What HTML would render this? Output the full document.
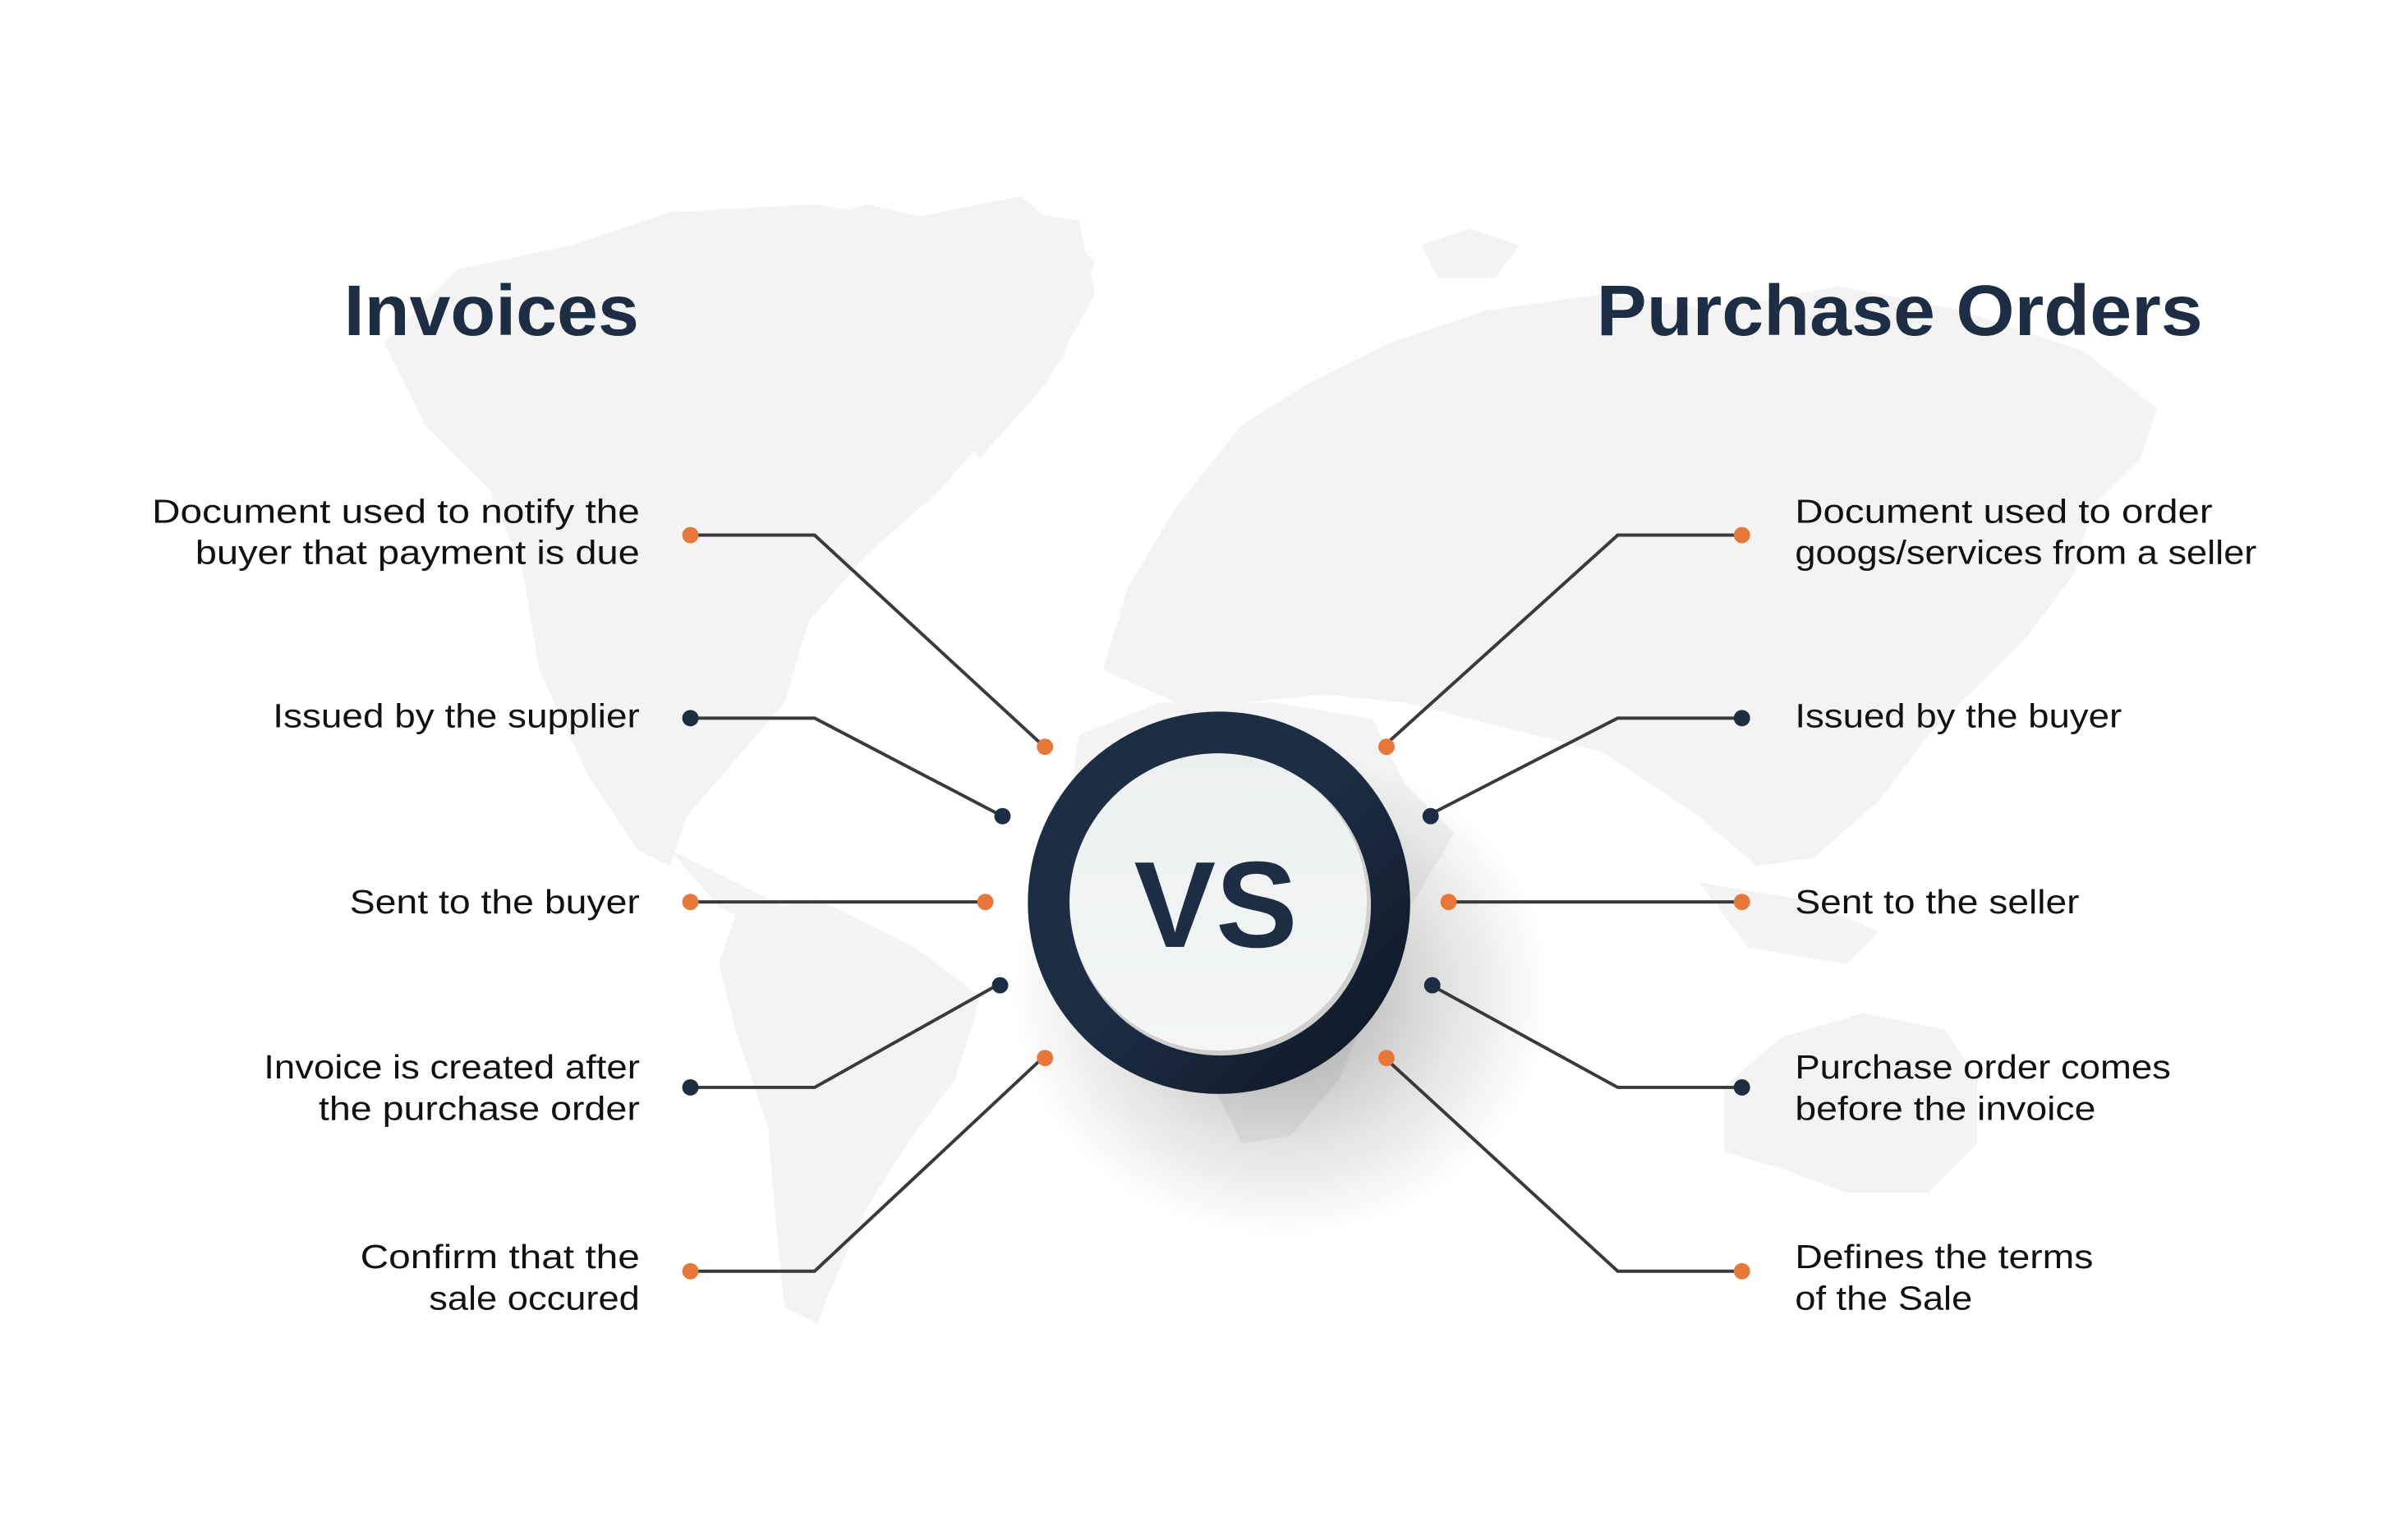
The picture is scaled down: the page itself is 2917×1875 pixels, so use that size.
<!DOCTYPE html>
<html><head><meta charset="utf-8"><style>
html,body{margin:0;padding:0;background:#fff;}
svg{display:block;}
text{font-family:"Liberation Sans",sans-serif;}
</style></head><body>
<svg width="2917" height="1875" viewBox="0 0 2917 1875" xmlns="http://www.w3.org/2000/svg">
<defs>
<radialGradient id="sh" cx="0.5" cy="0.5" r="0.5">
<stop offset="0" stop-color="#000" stop-opacity="0.35"/>
<stop offset="0.6" stop-color="#000" stop-opacity="0.12"/>
<stop offset="1" stop-color="#000" stop-opacity="0"/>
</radialGradient>
<linearGradient id="ring" x1="0" y1="0" x2="1" y2="1">
<stop offset="0.5" stop-color="#1c2d44"/>
<stop offset="1" stop-color="#0c1420"/>
</linearGradient>
<linearGradient id="face" x1="0" y1="0" x2="0" y2="1">
<stop offset="0" stop-color="#edf0f1"/>
<stop offset="1" stop-color="#f3f5f6"/>
</linearGradient>
</defs>
<g transform="scale(0.9947)">
<g fill="#f3f3f3">
<path d="M470 420 L560 330 L700 300 L820 260 L1000 250 L1100 270 L1250 240 L1340 320 L1300 440 L1220 520 L1150 600 L1060 680 L990 760 L960 860 L900 930 L840 1000 L820 1060 L780 1040 L720 950 L660 820 L640 700 L600 600 L520 520 Z"/>
<path d="M980 280 L1060 250 L1150 270 L1120 340 L1040 340 Z"/>
<path d="M1090 290 L1200 250 L1320 270 L1340 360 L1280 470 L1200 560 L1140 500 L1110 400 Z"/>
<path d="M820 1040 L900 1080 L960 1110 L940 1140 L880 1110 Z"/>
<path d="M900 1120 L1000 1100 L1120 1160 L1200 1220 L1170 1320 L1110 1400 L1060 1480 L1020 1570 L1000 1620 L960 1600 L950 1500 L940 1380 L900 1260 L880 1180 Z"/>
<path d="M1350 820 L1380 720 L1440 620 L1520 520 L1600 470 L1700 420 L1820 380 L1960 360 L2100 380 L2250 350 L2400 380 L2550 430 L2640 500 L2620 560 L2560 620 L2540 700 L2480 780 L2420 840 L2360 900 L2300 980 L2220 1050 L2150 1060 L2080 1000 L2020 960 L1960 920 L1880 900 L1800 880 L1720 860 L1620 850 L1520 860 L1440 860 Z"/>
<path d="M1740 300 L1800 280 L1860 300 L1830 340 L1760 340 Z"/>
<path d="M1320 900 L1420 860 L1560 860 L1680 880 L1720 960 L1780 1020 L1720 1120 L1680 1220 L1640 1320 L1580 1390 L1520 1400 L1480 1320 L1450 1220 L1420 1120 L1360 1060 L1310 980 Z"/>
<path d="M2080 1080 L2200 1100 L2300 1140 L2260 1180 L2140 1160 Z"/>
<path d="M2110 1330 L2180 1270 L2280 1240 L2380 1260 L2420 1320 L2420 1400 L2360 1460 L2260 1460 L2180 1430 L2110 1410 Z"/>
</g>
<ellipse cx="1568" cy="1214" rx="330" ry="300" fill="url(#sh)"/>
<g stroke="#3a3a3a" stroke-width="4" fill="none">
<polyline points="845,655 997,655 1277,913"/>
<polyline points="845,879 997,879 1225,998"/>
<polyline points="845,1104 1205,1104"/>
<polyline points="845,1331 997,1331 1222,1205"/>
<polyline points="845,1556 997,1556 1277,1294"/>
<polyline points="2132,655 1980,655 1694,913"/>
<polyline points="2132,879 1980,879 1748,998"/>
<polyline points="2132,1104 1770,1104"/>
<polyline points="2132,1331 1980,1331 1750,1205"/>
<polyline points="2132,1556 1980,1556 1694,1294"/>
</g>
<g>
<circle cx="845" cy="655" r="10" fill="#e8773a"/>
<circle cx="845" cy="879" r="10" fill="#1c2d44"/>
<circle cx="845" cy="1104" r="10" fill="#e8773a"/>
<circle cx="845" cy="1331" r="10" fill="#1c2d44"/>
<circle cx="845" cy="1556" r="10" fill="#e8773a"/>
<circle cx="1279" cy="914" r="10" fill="#e8773a"/>
<circle cx="1227" cy="999" r="10" fill="#1c2d44"/>
<circle cx="1206" cy="1104" r="10" fill="#e8773a"/>
<circle cx="1224" cy="1206" r="10" fill="#1c2d44"/>
<circle cx="1279" cy="1295" r="10" fill="#e8773a"/>
<circle cx="2132" cy="655" r="10" fill="#e8773a"/>
<circle cx="2132" cy="879" r="10" fill="#1c2d44"/>
<circle cx="2132" cy="1104" r="10" fill="#e8773a"/>
<circle cx="2132" cy="1331" r="10" fill="#1c2d44"/>
<circle cx="2132" cy="1556" r="10" fill="#e8773a"/>
<circle cx="1697" cy="914" r="10" fill="#e8773a"/>
<circle cx="1751" cy="999" r="10" fill="#1c2d44"/>
<circle cx="1773" cy="1104" r="10" fill="#e8773a"/>
<circle cx="1753" cy="1206" r="10" fill="#1c2d44"/>
<circle cx="1697" cy="1295" r="10" fill="#e8773a"/>
</g>
<circle cx="1492" cy="1105" r="234" fill="url(#ring)"/>
<circle cx="1494" cy="1108" r="184" fill="#cfcfcf"/>
<circle cx="1491" cy="1104" r="182" fill="url(#face)"/>
<text x="1488" y="1159" text-anchor="middle" font-size="150" font-weight="bold" fill="#1c2d44">VS</text>
<text x="421" y="410" font-size="88" font-weight="bold" fill="#1c2d44" textLength="361" lengthAdjust="spacingAndGlyphs">Invoices</text>
<text x="1954" y="410" font-size="88" font-weight="bold" fill="#1c2d44" textLength="742" lengthAdjust="spacingAndGlyphs">Purchase Orders</text>
<g font-size="41" fill="#111">
<text x="186" y="640" textLength="597" lengthAdjust="spacingAndGlyphs">Document used to notify the</text>
<text x="239" y="690" textLength="544" lengthAdjust="spacingAndGlyphs">buyer that payment is due</text>
<text x="334" y="890" textLength="449" lengthAdjust="spacingAndGlyphs">Issued by the supplier</text>
<text x="428" y="1118" textLength="355" lengthAdjust="spacingAndGlyphs">Sent to the buyer</text>
<text x="323" y="1320" textLength="460" lengthAdjust="spacingAndGlyphs">Invoice is created after</text>
<text x="390" y="1371" textLength="393" lengthAdjust="spacingAndGlyphs">the purchase order</text>
<text x="441" y="1552" textLength="342" lengthAdjust="spacingAndGlyphs">Confirm that the</text>
<text x="525" y="1603" textLength="258" lengthAdjust="spacingAndGlyphs">sale occured</text>
<text x="2197" y="640" textLength="511" lengthAdjust="spacingAndGlyphs">Document used to order</text>
<text x="2197" y="690" textLength="565" lengthAdjust="spacingAndGlyphs">googs/services from a seller</text>
<text x="2197" y="890" textLength="400" lengthAdjust="spacingAndGlyphs">Issued by the buyer</text>
<text x="2197" y="1118" textLength="348" lengthAdjust="spacingAndGlyphs">Sent to the seller</text>
<text x="2197" y="1320" textLength="460" lengthAdjust="spacingAndGlyphs">Purchase order comes</text>
<text x="2197" y="1371" textLength="368" lengthAdjust="spacingAndGlyphs">before the invoice</text>
<text x="2197" y="1552" textLength="365" lengthAdjust="spacingAndGlyphs">Defines the terms</text>
<text x="2197" y="1603" textLength="217" lengthAdjust="spacingAndGlyphs">of the Sale</text>
</g>
</g>
</svg>
</body></html>
